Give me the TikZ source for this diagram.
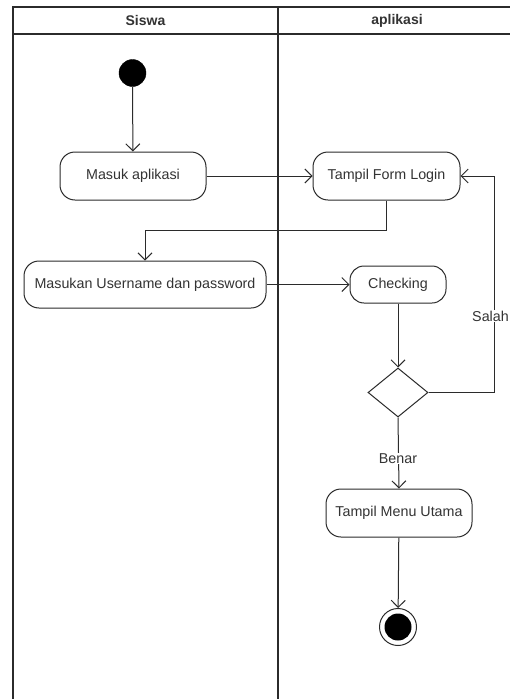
\documentclass[tikz,border=0pt]{standalone}
\usepackage{fontspec}
\setmainfont{Liberation Sans}
\usetikzlibrary{arrows.meta,shapes.geometric}
\definecolor{ln}{HTML}{2B2B2B}
\definecolor{tx}{HTML}{333333}
\begin{document}
\begin{tikzpicture}[x=1pt,y=-1pt,
  every node/.style={font=\fontsize{14.3}{16}\selectfont, text=tx},
  act/.style={draw=ln, line width=1pt, rounded corners=15pt, fill=white, inner sep=0pt, align=center},
  flow/.style={draw=ln, line width=1pt, -{Straight Barb[length=7pt,width=14pt,line width=1pt]}},
  lane/.style={draw=ln, line width=1.1pt},
  lbl/.style={fill=white, inner sep=1pt}]
\useasboundingbox (0,0) rectangle (510,699);
\fill[white] (0,0) rectangle (510,699);
% swimlanes
\draw[lane] (13,699) -- (13,7) -- (510,7);
\draw[lane] (13,34) -- (510,34);
\draw[lane] (278,7) -- (278,699);
\node[font=\bfseries\fontsize{14}{16}\selectfont] (h1) at (145.5,20.5) {Siswa};
\node[font=\bfseries\fontsize{14}{16}\selectfont] (h2) at (397,20.5) {aplikasi};
% nodes
\node[circle, fill=black, draw=black, minimum size=27pt, inner sep=0pt] (start) at (132.5,73) {};
\node[act, minimum width=146pt, minimum height=48pt] (masuk) at (133,176) {Masuk aplikasi};
\node[act, minimum width=147pt, minimum height=48pt] (form) at (386.5,176) {Tampil Form Login};
\node[act, minimum width=242pt, minimum height=47pt] (user) at (145,284.5) {Masukan Username dan password};
\node[act, minimum width=96pt, minimum height=37pt, rounded corners=14pt] (check) at (398,284.5) {Checking};
\node[diamond, draw=ln, line width=1pt, fill=white, minimum width=60pt, minimum height=49pt, inner sep=0pt, aspect=1.22] (dec) at (398,392.5) {};
\node[act, minimum width=146pt, minimum height=48pt] (menu) at (399,513) {Tampil Menu Utama};
\node[circle, draw=ln, line width=1pt, fill=white, minimum size=37pt, inner sep=0pt] (end) at (398,627) {};
\node[circle, fill=black, minimum size=27pt, inner sep=0pt] (endin) at (398,627) {};
\coordinate (loop) at (494.5,392.5);
% connectors
\draw[flow] (start) -- (masuk);
\draw[flow] (masuk) -- (form);
\draw[flow] (form.south) |- (145,230) -- (user.north);
\draw[flow] (user) -- (check);
\draw[flow] (check) -- (dec);
\draw[flow] (dec.east) -- (loop) |- (form.east);
\node[lbl, anchor=east] (salah) at (510,316) {Salah};
\draw[flow] (dec.south) -- (menu.north);
\node[lbl] (benar) at (398,458.5) {Benar};
\draw[flow] (menu) -- (end);
\end{tikzpicture}
\end{document}
